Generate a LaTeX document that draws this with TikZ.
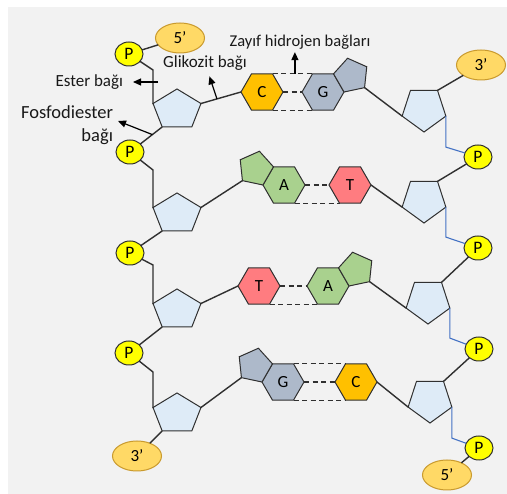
\documentclass[tikz,border=0pt]{standalone}
\usepackage{fontspec}
\setmainfont{Carlito}
\usetikzlibrary{shapes.geometric,arrows.meta}

\begin{document}
\begin{tikzpicture}
          [x=1pt, y=-1pt,
           every node/.style = {inner sep=0pt, outer sep=0pt},
           sugar/.style   = {regular polygon, regular polygon sides=5, draw=linecolor, line width=1pt, fill=sugarcolor, minimum size=42pt, xscale=1.2},
           rsugar/.style  = {regular polygon, regular polygon sides=5, draw=linecolor, line width=1pt, fill=sugarcolor, minimum size=46pt, rotate=180},
           ring/.style    = {regular polygon, regular polygon sides=6, draw=linecolor, line width=1pt, minimum size=42pt, font=\fontsize{17}{20}\selectfont},
           fused/.style   = {regular polygon, regular polygon sides=5, draw=linecolor, line width=1pt, minimum size=35.7pt},
           phos/.style    = {ellipse, draw=linecolor, line width=1pt, fill=phoscolor, minimum width=28pt, minimum height=24pt, font=\fontsize{17.5}{20}\selectfont},
           tail/.style    = {ellipse, draw=tailborder, line width=1pt, fill=tailcolor, minimum width=49pt, minimum height=30pt, font=\fontsize{17}{20}\selectfont},
           bond/.style    = {draw=linecolor, line width=1.4pt},
           blueline/.style= {draw=strandblue, line width=1.1pt},
           hbond/.style   = {draw=linecolor, line width=1.2pt, dash pattern=on 5pt off 3.5pt},
           pointer/.style = {-{Triangle[length=8pt,width=7pt]}, line width=1.2pt},
           labeltext/.style = {font=\fontsize{17}{20}\selectfont, text=black!90}
          ]

% Define colours
\definecolor{bgcolor}{HTML}{F2F2F2}
\definecolor{linecolor}{HTML}{303030}
\definecolor{sugarcolor}{HTML}{DEEBF7}
\definecolor{ccolor}{HTML}{FFC000}
\definecolor{gcolor}{HTML}{ADB9CA}
\definecolor{acolor}{HTML}{A9D18E}
\definecolor{tcolor}{HTML}{FF7C80}
\definecolor{phoscolor}{HTML}{FFFF00}
\definecolor{tailcolor}{HTML}{FFD966}
\definecolor{tailborder}{HTML}{C99A2E}
\definecolor{strandblue}{HTML}{4472C4}

\useasboundingbox (0,0) rectangle (507,494);
\fill[bgcolor] (8,7) rectangle (507,494);

% Left strand
\node[tail]  (fivetop)  at (180,38)  {5’};
\node[phos]  (pl1)      at (129,54)  {P};
\node[sugar] (sl1)      at (177,110) {};
\node[phos]  (pl2)      at (130,152) {P};
\node[sugar] (sl2)      at (177,214) {};
\node[phos]  (pl3)      at (130,253) {P};
\node[sugar] (sl3)      at (177,310) {};
\node[phos]  (pl4)      at (129,353) {P};
\node[sugar] (sl4)      at (177,414) {};
\node[tail]  (threebot) at (137,456) {3’};

% Right strand
\node[tail]   (threetop) at (481,65)  {3’};
\node[rsugar] (sr1)      at (424,109) {};
\node[phos]   (pr1)      at (478,157) {P};
\node[rsugar] (sr2)      at (424,200) {};
\node[phos]   (pr2)      at (478,248) {P};
\node[rsugar] (sr3)      at (428,301) {};
\node[phos]   (pr3)      at (479,349) {P};
\node[rsugar] (sr4)      at (430,400) {};
\node[phos]   (pr4)      at (479,448) {P};
\node[tail]   (fivebot)  at (447,475) {5’};

% Bases
\node[ring, fill=ccolor] (c1) at (262,92) {C};
\node[ring, fill=gcolor] (g1) at (323,92) {G};
\node[fused, fill=gcolor, rotate=12] (g1p) at ([shift={(28.3,-16.3)}]g1.center) {};

\node[ring, fill=acolor] (a2) at (284,185) {A};
\node[fused, fill=acolor, rotate=-12] (a2p) at ([shift={(-28.3,-16.3)}]a2.center) {};
\node[ring, fill=tcolor] (t2) at (350,185) {T};

\node[ring, fill=tcolor] (t3) at (259,286) {T};
\node[ring, fill=acolor] (a3) at (328,286) {A};
\node[fused, fill=acolor, rotate=12] (a3p) at ([shift={(28.3,-16.3)}]a3.center) {};

\node[ring, fill=gcolor] (g4) at (283,382) {G};
\node[fused, fill=gcolor, rotate=-12] (g4p) at ([shift={(-28.3,-16.3)}]g4.center) {};
\node[ring, fill=ccolor] (c4) at (356,382) {C};

% Backbone, left strand
\draw[bond] (fivetop) -- (pl1);
\draw[bond] (pl1) -- ++(24,16) |- (sl1.corner 2);
\draw[bond] (sl1.corner 3) -- coordinate[pos=0.45] (fosfopt) (pl2);
\draw[bond] (pl2) -- ++(23,18) |- (sl2.corner 2);
\draw[bond] (sl2.corner 3) -- (pl3);
\draw[bond] (pl3) -- ++(23,12) |- (sl3.corner 2);
\draw[bond] (sl3.corner 3) -- (pl4);
\draw[bond] (pl4) -- ++(24,19) |- (sl4.corner 2);
\draw[bond] (sl4.corner 3) -- (threebot);

% Backbone, right strand
\draw[bond] (sr1.corner 3) -- (threetop);
\draw[blueline] (sr1.corner 2) -- ++(0,31) -- (pr1);
\draw[bond] (pr1) -- (sr2.corner 3);
\draw[blueline] (sr2.corner 2) -- ++(0,30) -- (pr2);
\draw[bond] (pr2) -- (sr3.corner 3);
\draw[blueline] (sr3.corner 2) -- ++(0,30) -- (pr3);
\draw[bond] (pr3) -- (sr4.corner 3);
\draw[blueline] (sr4.corner 2) -- ++(0,31) -- (pr4);
\draw[bond] (pr4) -- (fivebot);

% Glycosidic bonds
\draw[bond] (sl1.corner 5) -- coordinate[pos=0.4] (glikpt) (c1.180);
\draw[bond] (g1p.corner 4) -- (sr1.corner 5);
\draw[bond] (sl2.corner 5) -- (a2p.corner 3);
\draw[bond] (t2.0) -- (sr2.corner 5);
\draw[bond] (sl3.corner 5) -- (t3.180);
\draw[bond] (a3p.corner 4) -- (sr3.corner 5);
\draw[bond] (sl4.corner 5) -- (g4p.corner 3);
\draw[bond] (c4.0) -- (sr4.corner 5);

% Hydrogen bonds
\draw[hbond] (c1.60) -- coordinate[pos=0.56] (hbpt) (g1.120);
\draw[hbond] (c1.0) -- (g1.180);
\draw[hbond] (c1.-60) -- (g1.-120);
\draw[hbond] (a2.0) -- (t2.180);
\draw[hbond] (a2.-60) -- (t2.-120);
\draw[hbond] (t3.0) -- (a3.180);
\draw[hbond] (t3.-60) -- (a3.-120);
\draw[hbond] (g4.60) -- (c4.120);
\draw[hbond] (g4.0) -- (c4.180);
\draw[hbond] (g4.-60) -- (c4.-120);

% Labels
\node[labeltext, anchor=east, inner xsep=10pt] (esterlbl) at (133,82) {Ester bağı};
\coordinate (esterpt) at (158,82);
\draw[pointer] (esterpt) -- (esterlbl);

\node[labeltext, inner ysep=6pt] (glikozitlbl) at (205,63) {Glikozit bağı};
\draw[pointer] (glikpt) -- (glikozitlbl);

\node[labeltext, font=\fontsize{16.5}{20}\selectfont, inner ysep=3pt] (hbondlbl) at (300,42) {Zayıf hidrojen bağları};
\draw[pointer] (hbpt) -- (hbpt |- hbondlbl.south);

\node[labeltext, font=\fontsize{18.5}{23}\selectfont, align=right, anchor=east, inner sep=5pt] (fosfolbl) at (118,125) {Fosfodiester\\bağı};
\draw[pointer] (fosfopt) -- ([yshift=4pt]fosfolbl.east);

\end{tikzpicture}
\end{document}
